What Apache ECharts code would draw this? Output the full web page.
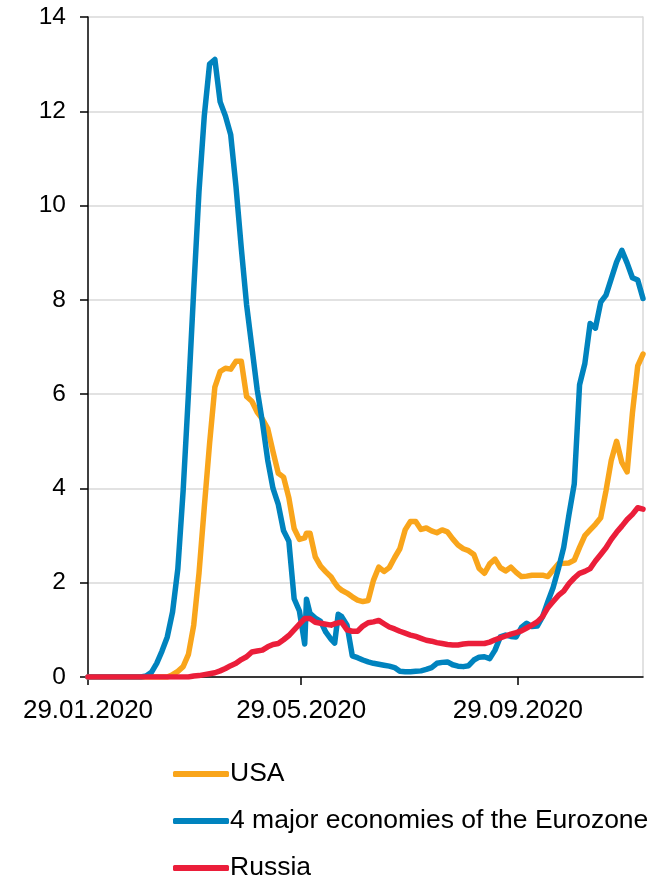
<!DOCTYPE html>
<html>
<head>
<meta charset="utf-8">
<script src="https://cdn.jsdelivr.net/npm/echarts@6/dist/echarts.min.js"></script>
<style>
html,body{margin:0;padding:0;background:#fff;}
#chart{width:669px;height:878px;}
</style>
</head>
<body>
<div id="chart"></div>
<script>
// Days since 29.01.2020
var days = [0,3,6,9,12,15,18,21,24,27,30,33,36,39,42,45,48,51,54,57,60,63,66,69,72,75,78,81,84,87,90,93,96,99,102,105,108,111,114,117,120,
123,124,126,129,132,135,138,140,141,142,144,
147,150,153,156,159,162,165,168,171,174,177,180,183,186,189,192,195,198,201,204,207,210,213,216,219,222,225,228,231,234,237,240,243,246,249,252,255,258,261,264,267,270,273,276,279,282,285,288,291,294,297,300,303,306,309,312,315];

var seriesNames = ['USA', '4 major economies of the Eurozone', 'Russia'];

var usa = [0,0,0,0,0,0,0,0,0,0,0,0,0,0,0,
0.0,0.05,0.12,0.22,0.48,1.1,2.2,3.6,4.95,6.15,6.48,6.55,6.53,6.7,6.7,5.95,5.85,5.62,5.47,5.27,4.78,4.32,4.24,3.8,3.15,2.92,
2.95,3.05,3.05,2.55,2.35,2.23,2.12,2.0,1.95,1.9,1.84,
1.78,1.7,1.63,1.6,1.62,2.05,2.33,2.24,2.32,2.53,
2.72,3.12,3.3,3.3,3.13,3.16,3.1,3.06,3.12,3.08,
2.93,2.8,2.72,2.68,2.6,2.3,2.2,2.4,2.5,2.32,
2.25,2.33,2.22,2.13,2.14,2.16,2.16,2.16,2.13,2.27,
2.4,2.41,2.42,2.48,2.75,3.0,3.12,3.24,3.38,3.95,
4.6,5.0,4.55,4.35,5.6,6.6,6.85];

var eurozone = [0,0,0,0,0,0,0,0,0,0,0,
0.02,0.1,0.29,0.55,0.85,1.38,2.3,3.95,6.0,8.2,10.3,11.9,13.0,13.1,12.2,11.9,11.5,10.4,9.1,7.9,7.0,6.1,5.4,4.6,4.0,3.66,3.1,2.88,1.66,1.4,
0.7,1.65,1.35,1.25,1.18,0.95,0.8,0.72,0.75,1.33,1.28,
1.1,0.45,0.41,0.36,0.32,0.29,0.27,0.25,0.23,0.2,
0.12,0.11,0.11,0.12,0.13,0.16,0.2,0.29,0.31,0.32,
0.26,0.23,0.22,0.24,0.36,0.42,0.43,0.39,0.57,0.85,
0.89,0.86,0.85,1.05,1.14,1.07,1.08,1.28,1.6,1.9,
2.3,2.75,3.45,4.1,6.2,6.65,7.5,7.4,7.95,8.1,
8.45,8.8,9.05,8.78,8.47,8.42,8.03];

var russia = [0,0,0,0,0,0,0,0,0,0,0,0,0,0,0,0,0,0,0,0,
0.02,0.03,0.05,0.07,0.09,0.13,0.18,0.24,0.29,0.37,0.43,0.53,0.55,0.57,0.64,0.69,0.71,0.79,0.88,1.0,1.12,
1.24,1.25,1.24,1.16,1.14,1.12,1.1,1.13,1.14,1.15,1.16,
1.0,0.97,0.97,1.08,1.15,1.17,1.2,1.13,1.06,1.02,
0.97,0.93,0.89,0.86,0.82,0.78,0.76,0.73,0.71,0.69,
0.68,0.68,0.7,0.71,0.71,0.71,0.71,0.74,0.79,0.83,
0.87,0.91,0.94,0.98,1.04,1.1,1.17,1.28,1.47,1.6,
1.73,1.82,1.98,2.1,2.2,2.24,2.3,2.46,2.6,2.74,
2.92,3.07,3.2,3.34,3.45,3.59,3.56];

var xTickDays = [0, 121, 244];
var colors = ['#F9A51B', '#0083BE', '#EB1E3A'];

function pairs(vals) {
  return days.map(function (d, i) { return [d, vals[i]]; });
}
function dayLabel(d) {
  var t = new Date(Date.UTC(2020, 0, 29) + Math.round(d) * 86400000);
  var dd = ('0' + t.getUTCDate()).slice(-2);
  var mm = ('0' + (t.getUTCMonth() + 1)).slice(-2);
  return dd + '.' + mm + '.' + t.getUTCFullYear();
}

var chart = echarts.init(document.getElementById('chart'), null, {renderer: 'canvas'});
var font = 'Liberation Sans, Arial, sans-serif';
var allVals = [usa, eurozone, russia];

chart.setOption({
  animation: false,
  backgroundColor: '#ffffff',
  textStyle: {fontFamily: font},
  grid: {left: 88, right: 26, top: 17, bottom: 201, containLabel: false},
  legend: {
    data: seriesNames,
    orient: 'vertical',
    left: 168,
    top: 755,
    height: 123,
    itemWidth: 56,
    itemHeight: 6,
    itemGap: 19,
    icon: 'roundRect',
    textStyle: {fontSize: 26.5, lineHeight: 28, color: '#000', fontFamily: font, padding: [0, 0, 0, -4]}
  },
  xAxis: {
    type: 'value',
    min: 0,
    max: 315,
    splitLine: {show: false},
    axisLine: {show: true, lineStyle: {color: '#000', width: 1.5}},
    axisTick: {show: true, length: 8, lineStyle: {color: '#000', width: 1.5}, customValues: xTickDays},
    axisLabel: {
      customValues: xTickDays,
      formatter: function (v) { return dayLabel(v); },
      fontSize: 26, color: '#000', fontFamily: font, margin: 21
    }
  },
  yAxis: [{
    type: 'value',
    min: 0,
    max: 14,
    interval: 2,
    axisLine: {show: true, lineStyle: {color: '#000', width: 1.5}},
    axisTick: {show: true, length: 8, lineStyle: {color: '#000', width: 1.5}},
    axisLabel: {fontSize: 24.5, color: '#000', fontFamily: font, margin: 22},
    splitLine: {show: true, lineStyle: {color: '#d9d9d9', width: 1.5}}
  }, {
    type: 'value',
    position: 'right',
    min: 0,
    max: 14,
    interval: 2,
    axisLine: {show: true, lineStyle: {color: '#d9d9d9', width: 1.5}},
    axisTick: {show: false},
    axisLabel: {show: false},
    splitLine: {show: false}
  }],
  series: seriesNames.map(function (name, i) {
    return {
      name: name,
      type: 'line',
      yAxisIndex: 0,
      data: pairs(allVals[i]),
      symbol: 'none',
      smooth: false,
      color: colors[i],
      lineStyle: {width: 5.5, color: colors[i], cap: 'round', join: 'round'},
      z: 2 + i
    };
  })
});
</script>
</body>
</html>
